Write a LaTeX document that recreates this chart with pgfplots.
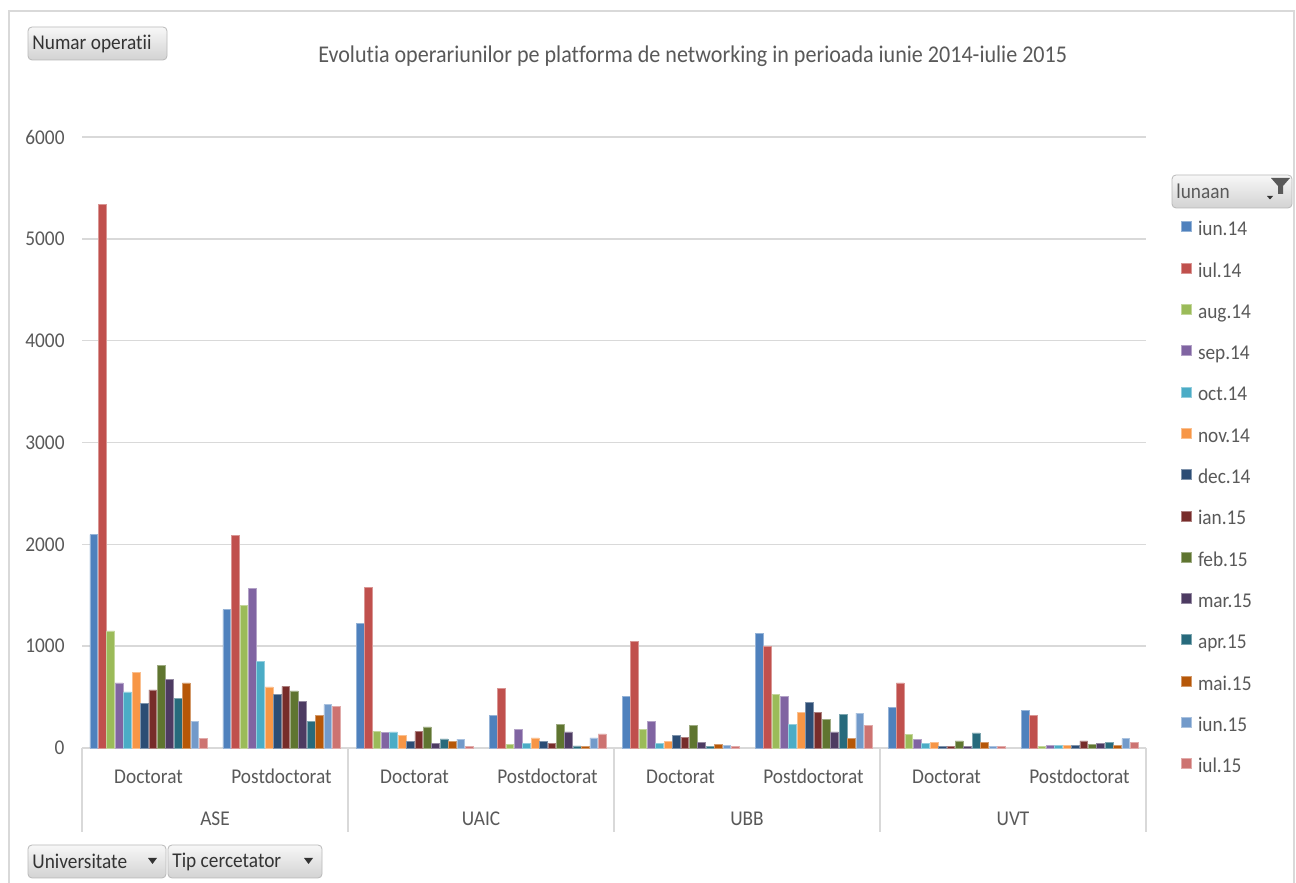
\documentclass[border=0pt]{standalone}
\usepackage{pgfplots}
\pgfplotsset{compat=1.18}
\usepackage{pgfplotstable}
\usepackage{fontspec}
\setmainfont[FakeStretch=0.92, Ligatures=NoCommon]{Carlito}

\definecolor{c1}{HTML}{4F81BD}
\definecolor{c2}{HTML}{C0504D}
\definecolor{c3}{HTML}{9BBB59}
\definecolor{c4}{HTML}{8064A2}
\definecolor{c5}{HTML}{4BACC6}
\definecolor{c6}{HTML}{F79646}
\definecolor{c7}{HTML}{2C4D75}
\definecolor{c8}{HTML}{772C2A}
\definecolor{c9}{HTML}{5F7530}
\definecolor{c10}{HTML}{4D3B62}
\definecolor{c11}{HTML}{276A7C}
\definecolor{c12}{HTML}{B65708}
\definecolor{c13}{HTML}{729ACA}
\definecolor{c14}{HTML}{CD7371}
\definecolor{txt}{HTML}{595959}
\definecolor{gridc}{HTML}{D9D9D9}

% x: 0 ASE-Doctorat, 1 ASE-Postdoctorat, 2 UAIC-D, 3 UAIC-P, 4 UBB-D, 5 UBB-P, 6 UVT-D, 7 UVT-P
\pgfplotstableread{
x s1   s2   s3   s4   s5  s6  s7  s8  s9  s10 s11 s12 s13 s14
0 2095 5335 1150 640  550 740 435 570 810 670 490 640 265 94
1 1360 2090 1400 1570 850 600 525 605 560 455 265 320 425 410
2 1220 1580 160  150  158 125 66  160 208 45  90  68  86  13
3 320  587  33   182  45  99  66  45  228 158 20  13  99  139
4 508  1050 182  264  43  66  125 106 218 56  17  33  23  17
5 1129 1000 528  505  228 353 446 353 277 158 333 92  343 218
6 400  639  134  82   43  56  16  16  69  16  148 56  13  13
7 367  318  16   26   26  26  26  69  33  43  56  26  92  56
}\datatable

\newcommand{\cfont}{\fontsize{10.5}{12}\selectfont}

\begin{document}
\begin{tikzpicture}
\useasboundingbox (0,0) rectangle (648pt,441.5pt);
\fill[white] (0,0) rectangle (648pt,441.5pt);
\begin{axis}[
  at={(41pt,67.5pt)}, anchor=south west,
  scale only axis, width=532pt, height=305.5pt,
  xmin=-0.5, xmax=7.5, ymin=0, ymax=6000,
  ybar=0.3pt, bar width=3.9pt,
  axis line style={draw=none},
  major tick length=0pt,
  ytick={0,1000,2000,3000,4000,5000,6000},
  ymajorgrids, grid style={draw=gridc, line width=0.75pt},
  xtick={0,1,2,3,4,5,6,7},
  xticklabels={Doctorat,Postdoctorat,Doctorat,Postdoctorat,Doctorat,Postdoctorat,Doctorat,Postdoctorat},
  xticklabel style={anchor=center, yshift=-15.5pt, text=txt, font=\cfont, text height=7pt, text depth=2pt},
  yticklabel style={anchor=east, xshift=-5.2pt, text=txt, font=\cfont},
  /pgf/number format/assume math mode=true,
  /pgf/number format/1000 sep={},
  clip=false,
  every axis title shift=0pt,
  title={Evolutia operariunilor pe platforma de networking in perioada iunie 2014-iulie 2015},
  title style={at={(0.574,1.1326)}, anchor=center, text=txt, font=\fontsize{12}{14}\selectfont},
  legend cell align=left,
  legend style={at={(1.0329,0.8625)}, anchor=north west, draw=none, fill=none,
    inner sep=0pt, row sep=11.5pt, column sep=3pt, font=\cfont, text=txt,
    nodes={inner sep=0pt, text height=7pt, text depth=2pt}},
  legend image code/.code={\fill[#1] (0pt,-0.5pt) rectangle (5pt,4.5pt);},
]
\addplot[fill=c1, draw=c1!60!white, line width=0.3pt] table[x=x,y=s1] {\datatable};
\addplot[fill=c2, draw=c2!60!white, line width=0.3pt] table[x=x,y=s2] {\datatable};
\addplot[fill=c3, draw=c3!60!white, line width=0.3pt] table[x=x,y=s3] {\datatable};
\addplot[fill=c4, draw=c4!60!white, line width=0.3pt] table[x=x,y=s4] {\datatable};
\addplot[fill=c5, draw=c5!60!white, line width=0.3pt] table[x=x,y=s5] {\datatable};
\addplot[fill=c6, draw=c6!60!white, line width=0.3pt] table[x=x,y=s6] {\datatable};
\addplot[fill=c7, draw=c7!60!white, line width=0.3pt] table[x=x,y=s7] {\datatable};
\addplot[fill=c8, draw=c8!60!white, line width=0.3pt] table[x=x,y=s8] {\datatable};
\addplot[fill=c9, draw=c9!60!white, line width=0.3pt] table[x=x,y=s9] {\datatable};
\addplot[fill=c10, draw=c10!60!white, line width=0.3pt] table[x=x,y=s10] {\datatable};
\addplot[fill=c11, draw=c11!60!white, line width=0.3pt] table[x=x,y=s11] {\datatable};
\addplot[fill=c12, draw=c12!60!white, line width=0.3pt] table[x=x,y=s12] {\datatable};
\addplot[fill=c13, draw=c13!60!white, line width=0.3pt] table[x=x,y=s13] {\datatable};
\addplot[fill=c14, draw=c14!60!white, line width=0.3pt] table[x=x,y=s14] {\datatable};
\legend{iun.14,iul.14,aug.14,sep.14,oct.14,nov.14,dec.14,ian.15,feb.15,mar.15,apr.15,mai.15,iun.15,iul.15}
% category separators
\pgfplotsinvokeforeach{-0.5,1.5,3.5,5.5,7.5}{
  \draw[gridc, line width=0.75pt] (axis cs:#1,0) -- ([yshift=-42pt]axis cs:#1,0);
}
\node[text=txt, font=\cfont] at ([yshift=-35.5pt]axis cs:0.5,0) {ASE};
\node[text=txt, font=\cfont] at ([yshift=-35.5pt]axis cs:2.5,0) {UAIC};
\node[text=txt, font=\cfont] at ([yshift=-35.5pt]axis cs:4.5,0) {UBB};
\node[text=txt, font=\cfont] at ([yshift=-35.5pt]axis cs:6.5,0) {UVT};
\end{axis}
\begin{scope}[x=0.5pt, y=-0.5pt, shift={(0pt,441.5pt)}]
  \draw[gray!30, line width=0.75pt] (9,11) rectangle (1294,900);
  % Numar operatii button
  \draw[rounded corners=2pt, draw=gray!55, top color=gray!6, bottom color=gray!35] (28,27) rectangle (167,60);
  \node[anchor=west, inner sep=0pt, text=black!80, font=\cfont] at (32,43.5) {Numar operatii};
  % Universitate
  \draw[rounded corners=2pt, draw=gray!55, top color=gray!6, bottom color=gray!35] (28,845) rectangle (166,878);
  \node[anchor=west, inner sep=0pt, text=black!80, font=\cfont] at (32,861.5) {Universitate};
  \fill[black!80] (148,858) -- (157,858) -- (152.5,864) -- cycle;
  % Tip cercetator
  \draw[rounded corners=2pt, draw=gray!55, top color=gray!6, bottom color=gray!35] (168,845) rectangle (322,878);
  \node[anchor=west, inner sep=0pt, text=black!80, font=\cfont] at (172,861.5) {Tip cercetator};
  \fill[black!80] (304,858) -- (313,858) -- (308.5,864) -- cycle;
  % lunaan
  \draw[rounded corners=2pt, draw=gray!55, top color=gray!6, bottom color=gray!35] (1172,175) rectangle (1292,208);
  \node[anchor=west, inner sep=0pt, text=txt, font=\cfont] at (1176,191.5) {lunaan};
  \fill[black!65] (1271,178) -- (1290,178) -- (1283,186) -- (1283,194) -- (1278,194) -- (1278,186) -- cycle;
  \fill[black!80] (1267,196) -- (1273,196) -- (1270,199.5) -- cycle;
\end{scope}
\end{tikzpicture}
\end{document}
